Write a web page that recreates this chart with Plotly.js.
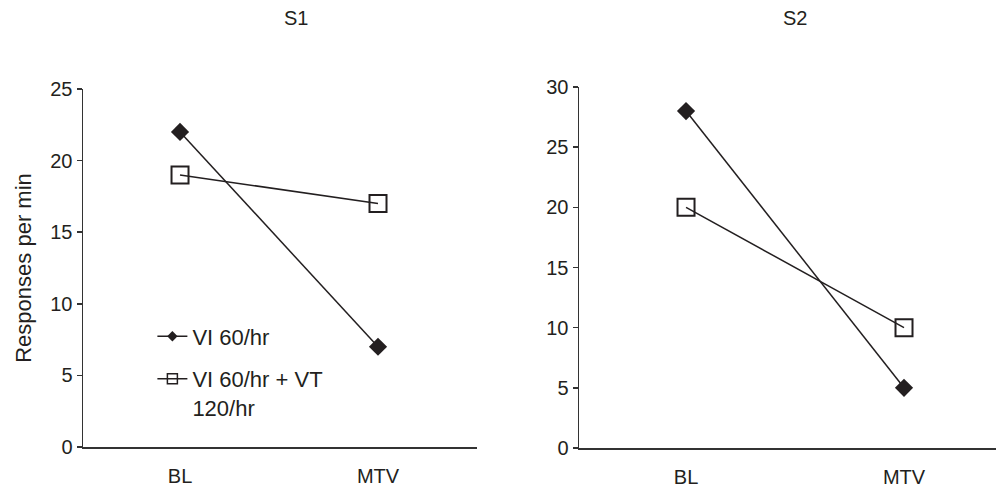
<!DOCTYPE html>
<html>
<head>
<meta charset="utf-8">
<script src="https://cdn.plot.ly/plotly-3.0.1.min.js"></script>
<style>html,body{margin:0;padding:0;background:#fff}#chart{width:996px;height:489px}</style>
</head>
<body>
<div id="chart"></div>
<script>
const categories = ["BL", "MTV"];
const s1_vi = [22, 7];
const s1_vivt = [19, 17];
const s2_vi = [28, 5];
const s2_vivt = [20, 10];
const seriesNames = ["VI 60/hr", "VI 60/hr + VT<br>120/hr"];
const panelTitles = ["S1", "S2"];
const yTitle = "Responses per min";
const s1Ticks = [0, 5, 10, 15, 20, 25];
const s2Ticks = [0, 5, 10, 15, 20, 25, 30];

const ink = "#231f20";
const font = {family: "Liberation Sans, Arial, sans-serif", size: 20, color: ink};
const bigFont = {family: "Liberation Sans, Arial, sans-serif", size: 22, color: ink};

function diamondTrace(y, xa, ya) {
  return {x: categories, y: y, xaxis: xa, yaxis: ya, type: "scatter", mode: "lines+markers",
    name: seriesNames[0], showlegend: false,
    line: {color: ink, width: 1.5},
    marker: {symbol: "diamond", size: 14, color: ink, line: {width: 0}}};
}
function squareTrace(y, xa, ya) {
  return {x: categories, y: y, xaxis: xa, yaxis: ya, type: "scatter", mode: "lines+markers",
    name: seriesNames[1], showlegend: false,
    line: {color: ink, width: 1.5},
    marker: {symbol: "square-open", size: 17, color: ink, line: {width: 2, color: "#333"}}};
}
// legend-only entries (no data) so the key can use small markers like the original
function legendEntry(name, symbol, size, rank) {
  return {x: [null], y: [null], xaxis: "x", yaxis: "y", type: "scatter", mode: "lines+markers",
    name: name, showlegend: true, legendrank: rank, legendgroup: "g" + rank, hoverinfo: "skip",
    line: {color: ink, width: 1.5},
    marker: {symbol: symbol, size: size, color: ink, line: {width: symbol === "diamond" ? 0 : 1.5, color: "#333"}}};
}

const data = [
  diamondTrace(s1_vi, "x", "y"),
  squareTrace(s1_vivt, "x", "y"),
  diamondTrace(s2_vi, "x2", "y2"),
  squareTrace(s2_vivt, "x2", "y2"),
  legendEntry(seriesNames[0], "diamond", 8, 1),
  legendEntry(seriesNames[1], "square-open", 10, 2)
];

const xCommon = {type: "category", showgrid: false, zeroline: false, showline: true,
  linecolor: "#333", linewidth: 1.5, ticks: "outside", ticklen: 10, tickcolor: "rgba(0,0,0,0)",
  tickfont: font, fixedrange: true};
const yCommon = {showgrid: false, zeroline: false, showline: true, linecolor: "#333",
  linewidth: 1.5, ticks: "outside", ticklen: 5, tickcolor: "#333", tickwidth: 1.5,
  tickfont: font, fixedrange: true};

const layout = {
  width: 996, height: 489,
  margin: {l: 0, r: 0, t: 0, b: 0},
  paper_bgcolor: "#fff", plot_bgcolor: "#fff",
  font: font,
  showlegend: true,
  legend: {x: 0.153, y: 0.355, xanchor: "left", yanchor: "top", bgcolor: "rgba(0,0,0,0)",
    font: bigFont, valign: "top", itemsizing: "trace", traceorder: "grouped", tracegroupgap: 11},
  xaxis: Object.assign({}, xCommon, {domain: [83/996, 477/996], range: [-0.49, 1.5], anchor: "y"}),
  yaxis: Object.assign({}, yCommon, {domain: [42/489, 400/489], range: [0, 25], tickvals: s1Ticks,
    anchor: "x", title: {text: yTitle, font: bigFont, standoff: 12}}),
  xaxis2: Object.assign({}, xCommon, {domain: [579/996, 1], range: [-0.491, 1.422], anchor: "y2"}),
  yaxis2: Object.assign({}, yCommon, {domain: [41/489, 402/489], range: [0, 30], tickvals: s2Ticks,
    anchor: "x2"}),
  annotations: [
    {text: panelTitles[0], xref: "paper", yref: "paper", x: 296/996, y: 1 - 18/489,
     xanchor: "center", yanchor: "middle", showarrow: false, font: font},
    {text: panelTitles[1], xref: "paper", yref: "paper", x: 795/996, y: 1 - 18/489,
     xanchor: "center", yanchor: "middle", showarrow: false, font: font}
  ]
};

Plotly.newPlot("chart", data, layout, {staticPlot: true, displayModeBar: false});
</script>
</body>
</html>
